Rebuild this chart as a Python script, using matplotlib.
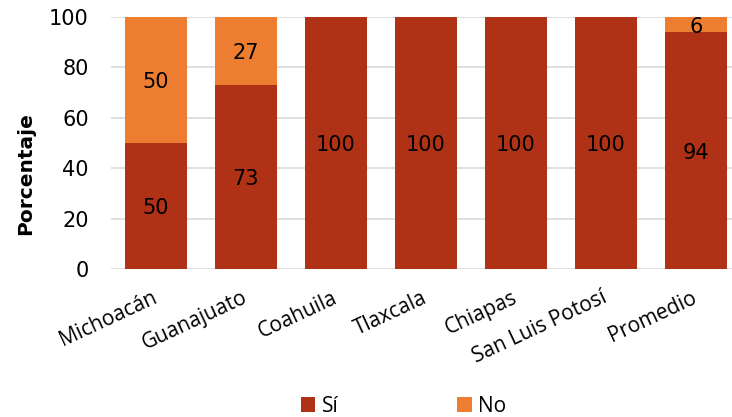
import matplotlib.pyplot as plt
import numpy as np

estados = ['Michoacán', 'Guanajuato', 'Coahuila', 'Tlaxcala', 'Chiapas',
           'San Luis Potosí', 'Promedio']
si = [50, 73, 100, 100, 100, 100, 94]
no = [50, 27, 0, 0, 0, 0, 6]

c_si = '#B03216'
c_no = '#ED7D31'

fig = plt.figure(figsize=(7.32, 4.17), dpi=100)
ax = fig.add_axes([111 / 732, 148 / 417, 630 / 732, 252 / 417])

x = np.arange(len(estados))
b1 = ax.bar(x, si, width=0.69, color=c_si, label='Sí', zorder=3)
b2 = ax.bar(x, no, width=0.69, bottom=si, color=c_no, label='No', zorder=3)

for xi, s, n in zip(x, si, no):
    ax.text(xi, s / 2, str(s), ha='center', va='center_baseline', fontsize=15, color='black', zorder=4)
    if n > 0:
        ax.text(xi, s + n / 2, str(n), ha='center', va='center_baseline', fontsize=15, color='black', zorder=4)

ax.set_xlim(-0.5, len(estados) - 0.5)
ax.set_ylim(0, 100)
ax.set_yticks(range(0, 101, 20))
ax.tick_params(axis='y', labelsize=15, length=0, pad=16, labelcolor='black')
ax.tick_params(axis='x', length=0, pad=20)
ax.set_xticks(x)
ax.set_xticklabels(estados, rotation=25, ha='right', va='center', rotation_mode='anchor',
                   fontsize=15, family='Open Sans')
ax.grid(axis='y', color='#d9d9d9', linewidth=1.2, zorder=0)
for s in ax.spines.values():
    s.set_visible(False)

ax.set_ylabel('Porcentaje', fontsize=14.5, fontweight='bold')
ax.yaxis.set_label_coords(-0.12, 0.38)

fig.legend(handles=[b1, b2], labels=['Sí', 'No'], loc='lower center',
           bbox_to_anchor=(0.551, -0.045), ncol=2, frameon=False,
           columnspacing=5.7, handlelength=0.7, handleheight=0.7, handletextpad=0.3,
           prop={'family': 'Open Sans', 'size': 15})

fig.savefig('out.png', dpi=100)
